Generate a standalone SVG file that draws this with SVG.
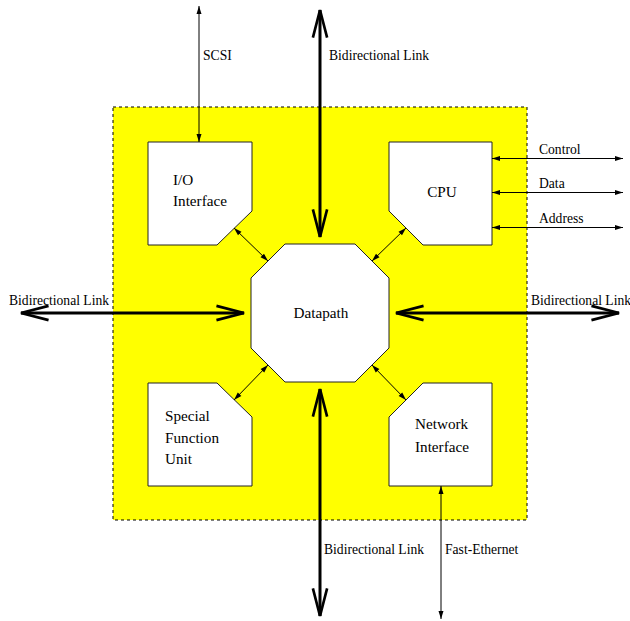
<svg xmlns="http://www.w3.org/2000/svg" width="630" height="621" viewBox="0 0 630 621">
<defs>
<style>
.box{fill:#fff;stroke:#222;stroke-width:1}
.lbl{font-family:"Liberation Serif","Times New Roman",serif;font-size:15.2px;fill:#000}
.lnk{font-family:"Liberation Serif","Times New Roman",serif;font-size:13.6px;fill:#000}
.big{stroke:#000;stroke-width:3;fill:none;marker-start:url(#bigA);marker-end:url(#bigA)}
.thin{stroke:#000;stroke-width:1;fill:none;marker-start:url(#smA);marker-end:url(#smA)}
</style>
<marker id="bigA" markerUnits="userSpaceOnUse" orient="auto-start-reverse" refX="0" refY="0" markerWidth="40" markerHeight="40" viewBox="-40 -20 45 40" overflow="visible">
<path d="M-31,-8 L0,0 L-31,8" fill="none" stroke="#000" stroke-width="3" stroke-linejoin="miter"/>
</marker>
<marker id="smA" markerUnits="userSpaceOnUse" orient="auto-start-reverse" refX="0" refY="0" markerWidth="12" markerHeight="8" viewBox="-10 -4 12 8" overflow="visible">
<path d="M0,0 L-8,-2.5 L-8,2.5 Z" fill="#000"/>
</marker>
</defs>
<rect x="113" y="107" width="414" height="413" fill="#ffff00" stroke="#000" stroke-width="1" stroke-dasharray="3,3"/>
<g id="io">
<polygon class="box" points="148,142 252,142 252,211 217,245 148,245"/>
<text class="lbl" x="173" y="185">I/O</text>
<text class="lbl" x="173" y="206">Interface</text>
</g>
<g id="cpu">
<polygon class="box" points="389,142 492,142 492,245 423,245 389,211"/>
<text class="lbl" x="442" y="197" text-anchor="middle">CPU</text>
</g>
<g id="datapath">
<polygon class="box" points="285,244 355,244 389,278 389,348 355,382 285,382 251,348 251,278"/>
<text class="lbl" x="321" y="318" text-anchor="middle">Datapath</text>
</g>
<g id="sfu">
<polygon class="box" points="148,383 217,383 252,417 252,486 148,486"/>
<text class="lbl" x="165" y="421">Special</text>
<text class="lbl" x="165" y="443">Function</text>
<text class="lbl" x="165" y="464">Unit</text>
</g>
<g id="ni">
<polygon class="box" points="423,383 492,383 492,486 389,486 389,417"/>
<text class="lbl" x="415" y="429">Network</text>
<text class="lbl" x="415" y="452">Interface</text>
</g>
<g id="connectors">
<line class="big" x1="320" y1="10" x2="320" y2="237"/>
<line class="big" x1="320" y1="389" x2="320" y2="616"/>
<line class="big" x1="21" y1="313" x2="244" y2="313"/>
<line class="big" x1="396" y1="313" x2="619" y2="313"/>
<line class="thin" x1="199" y1="6" x2="199" y2="142"/>
<line class="thin" x1="441" y1="486" x2="441" y2="619"/>
<line class="thin" x1="492" y1="158.5" x2="623" y2="158.5"/>
<line class="thin" x1="492" y1="192.5" x2="623" y2="192.5"/>
<line class="thin" x1="492" y1="227.5" x2="623" y2="227.5"/>
<line class="thin" x1="234" y1="228" x2="268" y2="261"/>
<line class="thin" x1="406" y1="228" x2="372" y2="261"/>
<line class="thin" x1="234" y1="400" x2="268" y2="365"/>
<line class="thin" x1="406" y1="400" x2="372" y2="365"/>
</g>
<g id="labels">
<text class="lnk" x="203" y="60">SCSI</text>
<text class="lnk" x="329" y="60">Bidirectional Link</text>
<text class="lnk" x="9" y="305">Bidirectional Link</text>
<text class="lnk" x="531" y="305">Bidirectional Link</text>
<text class="lnk" x="539" y="154">Control</text>
<text class="lnk" x="539" y="188">Data</text>
<text class="lnk" x="539" y="223">Address</text>
<text class="lnk" x="324" y="554">Bidirectional Link</text>
<text class="lnk" x="445" y="554">Fast-Ethernet</text>
</g>
</svg>
